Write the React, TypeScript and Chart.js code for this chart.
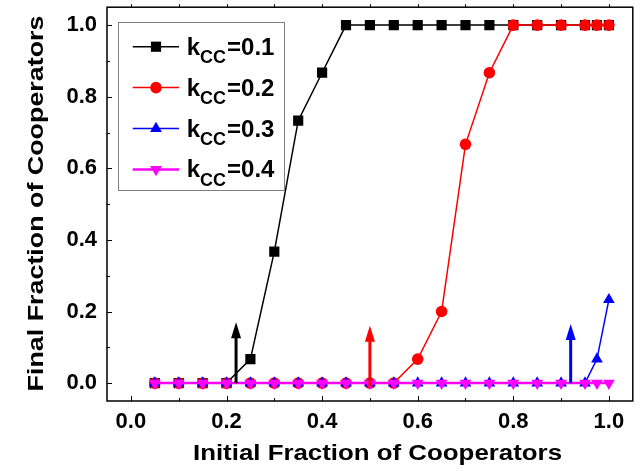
import React, { useEffect, useRef } from "react";
import { Chart, registerables } from "chart.js";

Chart.register(...registerables);

// Initial fraction of cooperators (x) and final fraction (y) for each k_CC
const initialFraction = [
  0.05, 0.1, 0.15, 0.2, 0.25, 0.3, 0.35, 0.4, 0.45, 0.5, 0.55,
  0.6, 0.65, 0.7, 0.75, 0.8, 0.85, 0.9, 0.95, 0.975, 1.0,
];
const finalK01 = [
  0, 0, 0, 0, 0.067, 0.367, 0.733, 0.867, 1, 1, 1,
  1, 1, 1, 1, 1, 1, 1, 1, 1, 1,
];
const finalK02 = [
  0, 0, 0, 0, 0, 0, 0, 0, 0, 0, 0,
  0.067, 0.2, 0.667, 0.867, 1, 1, 1, 1, 1, 1,
];
const finalK03 = [
  0, 0, 0, 0, 0, 0, 0, 0, 0, 0, 0,
  0, 0, 0, 0, 0, 0, 0, 0, 0.067, 0.233,
];
const finalK04 = [
  0, 0, 0, 0, 0, 0, 0, 0, 0, 0, 0,
  0, 0, 0, 0, 0, 0, 0, 0, 0, 0,
];
const kccLabels = ["0.1", "0.2", "0.3", "0.4"];

// Axis ticks
const majorTicks = [0, 0.2, 0.4, 0.6, 0.8, 1.0];
const minorTicks = [0.1, 0.3, 0.5, 0.7, 0.9];

// Critical initial fractions marked with arrows (black, red, blue)
const thresholdX = [0.22, 0.5, 0.92];
const thresholdTop = [0.17, 0.16, 0.165];
const thresholdBase = [0, -0.01, 0];

const FONT = '"Liberation Sans", Arial, Helvetica, sans-serif';

type MarkerStyle = {
  color: string;
  pointStyle: "rect" | "circle" | "triangle";
  radius: number;
  rotation: number;
  lineWidth: number;
};

const seriesStyles: MarkerStyle[] = [
  { color: "#000000", pointStyle: "rect", radius: 7.2, rotation: 0, lineWidth: 1.5 },
  { color: "#ff0000", pointStyle: "circle", radius: 5.8, rotation: 0, lineWidth: 1.5 },
  { color: "#0000ff", pointStyle: "triangle", radius: 6.8, rotation: 0, lineWidth: 1.5 },
  { color: "#ff00ff", pointStyle: "triangle", radius: 6.8, rotation: 180, lineWidth: 2.5 },
];
const arrowColors = ["#000000", "#ff0000", "#0000ff"];

function drawMarker(ctx: CanvasRenderingContext2D, s: MarkerStyle, x: number, y: number) {
  const r = s.radius;
  ctx.save();
  ctx.fillStyle = s.color;
  ctx.beginPath();
  if (s.pointStyle === "rect") {
    const h = Math.SQRT1_2 * r;
    ctx.rect(x - h, y - h, 2 * h, 2 * h);
  } else if (s.pointStyle === "circle") {
    ctx.arc(x, y, r, 0, Math.PI * 2);
  } else {
    let rad = (s.rotation * Math.PI) / 180;
    ctx.moveTo(x + Math.sin(rad) * r, y - Math.cos(rad) * r);
    rad += (2 * Math.PI) / 3;
    ctx.lineTo(x + Math.sin(rad) * r, y - Math.cos(rad) * r);
    rad += (2 * Math.PI) / 3;
    ctx.lineTo(x + Math.sin(rad) * r, y - Math.cos(rad) * r);
    ctx.closePath();
  }
  ctx.fill();
  ctx.restore();
}

const overlayPlugin = {
  id: "figureOverlay",
  afterDatasetsDraw(chart: any) {
    const ctx: CanvasRenderingContext2D = chart.ctx;
    const xs = chart.scales.x;
    const ys = chart.scales.y;
    thresholdX.forEach((v, i) => {
      const px = xs.getPixelForValue(v);
      const top = ys.getPixelForValue(thresholdTop[i]);
      const base = ys.getPixelForValue(thresholdBase[i]);
      const headH = 16;
      const headW = 10;
      ctx.save();
      ctx.strokeStyle = arrowColors[i];
      ctx.fillStyle = arrowColors[i];
      ctx.lineWidth = 3;
      ctx.beginPath();
      ctx.moveTo(px, base);
      ctx.lineTo(px, top + headH - 1);
      ctx.stroke();
      ctx.beginPath();
      ctx.moveTo(px, top);
      ctx.lineTo(px - headW / 2, top + headH);
      ctx.lineTo(px + headW / 2, top + headH);
      ctx.closePath();
      ctx.fill();
      ctx.restore();
    });
  },
  afterDraw(chart: any) {
    const ctx: CanvasRenderingContext2D = chart.ctx;
    const { left, right, top, bottom } = chart.chartArea;
    const xs = chart.scales.x;
    const ys = chart.scales.y;

    ctx.save();
    // frame
    ctx.strokeStyle = "#000";
    ctx.lineWidth = 1.5;
    ctx.strokeRect(left, top, right - left, bottom - top);

    // tick marks
    ctx.lineWidth = 1;
    ctx.beginPath();
    const tickSet = [
      ...majorTicks.map((v) => [v, 5]),
      ...minorTicks.map((v) => [v, 3]),
    ];
    tickSet.forEach(([v, len]) => {
      const px = Math.round(xs.getPixelForValue(v)) + 0.5;
      ctx.moveTo(px, bottom);
      ctx.lineTo(px, bottom - len);
      ctx.moveTo(px, top);
      ctx.lineTo(px, top - 3);
      const py = Math.round(ys.getPixelForValue(v)) + 0.5;
      ctx.moveTo(left, py);
      ctx.lineTo(left + len, py);
    });
    ctx.stroke();

    // axis titles
    ctx.fillStyle = "#000";
    ctx.font = `bold 22px ${FONT}`;
    ctx.textAlign = "center";
    ctx.textBaseline = "alphabetic";
    ctx.save();
    ctx.translate(377.5, 460);
    ctx.scale(1.175, 1);
    ctx.fillText("Initial Fraction of Cooperators", 0, 0);
    ctx.restore();
    ctx.save();
    ctx.translate(43, 203.5);
    ctx.rotate(-Math.PI / 2);
    ctx.scale(1.22, 1);
    ctx.fillText("Final Fraction of Cooperators", 0, 0);
    ctx.restore();

    // legend
    ctx.fillStyle = "#fff";
    ctx.fillRect(118.5, 22.5, 166, 168);
    ctx.strokeStyle = "#808080";
    ctx.lineWidth = 1;
    ctx.strokeRect(118.5, 22.5, 166, 168);
    ctx.textAlign = "left";
    kccLabels.forEach((lab, i) => {
      const cy = 46.7 + i * 40.9;
      const st = seriesStyles[i];
      ctx.strokeStyle = st.color;
      ctx.lineWidth = st.lineWidth;
      ctx.beginPath();
      ctx.moveTo(132.7, cy);
      ctx.lineTo(179, cy);
      ctx.stroke();
      drawMarker(ctx, st, 156, cy);
      ctx.fillStyle = "#000";
      let tx = 186.7;
      ctx.font = `bold 24px ${FONT}`;
      ctx.fillText("k", tx, cy + 8);
      tx += ctx.measureText("k").width;
      ctx.font = `bold 18px ${FONT}`;
      ctx.fillText("CC", tx, cy + 16.6);
      tx += ctx.measureText("CC").width + 1;
      ctx.font = `bold 24px ${FONT}`;
      ctx.fillText("=" + lab, tx, cy + 8);
    });
    ctx.restore();
  },
};

function makeDataset(label: string, values: number[], s: MarkerStyle, order: number) {
  return {
    label,
    data: initialFraction.map((x, i) => ({ x, y: values[i] })),
    borderColor: s.color,
    backgroundColor: s.color,
    borderWidth: s.lineWidth,
    pointStyle: s.pointStyle,
    pointRadius: s.radius,
    pointRotation: s.rotation,
    pointBorderWidth: 0,
    pointBackgroundColor: s.color,
    tension: 0,
    order,
  };
}

export default function App() {
  const canvasRef = useRef<HTMLCanvasElement | null>(null);

  useEffect(() => {
    const canvas = canvasRef.current;
    if (!canvas) return;
    const tickFont = { family: FONT, size: 22, weight: "bold" as const };
    const chart = new Chart(canvas, {
      type: "line",
      data: {
        datasets: [
          makeDataset("kCC=0.1", finalK01, seriesStyles[0], 4),
          makeDataset("kCC=0.2", finalK02, seriesStyles[1], 3),
          makeDataset("kCC=0.3", finalK03, seriesStyles[2], 2),
          makeDataset("kCC=0.4", finalK04, seriesStyles[3], 1),
        ],
      },
      options: {
        animation: false,
        responsive: false,
        devicePixelRatio: 1,
        layout: { padding: { top: 7, right: 2, left: 0, bottom: 0 } },
        plugins: {
          legend: { display: false },
          tooltip: { enabled: false },
        },
        scales: {
          x: {
            type: "linear",
            min: -0.05,
            max: 1.05,
            grid: { display: false },
            border: { display: false },
            ticks: {
              color: "#000",
              font: tickFont,
              padding: 0,
              maxRotation: 0,
              callback: (v: any) => Number(v).toFixed(1),
            },
            afterBuildTicks: (scale: any) => {
              scale.ticks = majorTicks.map((value) => ({ value }));
            },
            afterFit: (scale: any) => {
              scale.height = 70;
              scale.paddingLeft = 0;
              scale.paddingRight = 0;
            },
          },
          y: {
            type: "linear",
            min: -0.05,
            max: 1.05,
            grid: { display: false },
            border: { display: false },
            ticks: {
              color: "#000",
              font: tickFont,
              padding: 2,
              callback: (v: any) => Number(v).toFixed(1),
            },
            afterBuildTicks: (scale: any) => {
              scale.ticks = majorTicks.map((value) => ({ value }));
            },
            afterFit: (scale: any) => {
              scale.width = 107;
              scale.paddingTop = 0;
              scale.paddingBottom = 0;
            },
          },
        },
      },
      plugins: [overlayPlugin],
    });
    return () => chart.destroy();
  }, []);

  return (
    <div style={{ position: "absolute", left: 0, top: 0, width: 640, height: 471, background: "#fff" }}>
      <canvas ref={canvasRef} width={640} height={471} style={{ display: "block" }} />
    </div>
  );
}
